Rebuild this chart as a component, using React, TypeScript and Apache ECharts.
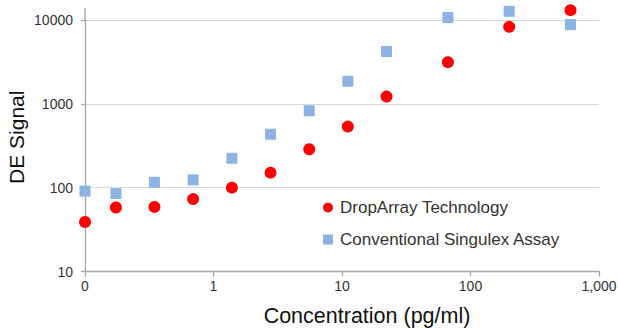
import React, { useEffect, useRef } from "react";
import * as echarts from "echarts";

const concentrations = [0.1, 0.174, 0.347, 0.694, 1.39, 2.78, 5.56, 11.1, 22.2, 66.7, 200, 600];
const dropArrayValues = [39, 58, 59, 73, 100, 151, 287, 535, 1220, 3140, 8280, 13100];
const singulexValues = [91, 85, 116, 124, 224, 434, 827, 1860, 4200, 10700, 12700, 8810];
const seriesNames = ["DropArray Technology", "Conventional Singulex Assay"];

const FONT = "'Liberation Sans', Arial, Helvetica, sans-serif";

export default function App() {
  const ref = useRef<HTMLDivElement>(null);
  useEffect(() => {
    if (!ref.current) return;
    const chart = echarts.init(ref.current, undefined, { renderer: "svg" });
    const axisLineStyle = { color: "#a6a6a6", width: 1.3 };
    chart.setOption({
      animation: false,
      textStyle: { fontFamily: FONT },
      grid: { left: 85, right: 19, top: 20, bottom: 56.5, outerBoundsMode: "none", containLabel: false },
      legend: {
        data: [
          { name: seriesNames[0], icon: "circle" },
          { name: seriesNames[1], icon: "rect" },
        ],
        orient: "vertical",
        left: 318,
        top: 194,
        padding: 5,
        itemWidth: 10,
        itemHeight: 10,
        itemGap: 15,
        textStyle: { fontSize: 17, color: "#333", fontFamily: FONT, padding: [0, 0, 0, 2] },
      },
      xAxis: {
        type: "log",
        logBase: 10,
        min: 0.1,
        max: 1000,
        name: "Concentration (pg/ml)",
        nameLocation: "middle",
        nameGap: 33.5,
        nameMoveOverlap: false,
        nameTextStyle: { fontSize: 21.5, color: "#111", fontFamily: FONT, padding: [0, 0, 0, 50] },
        axisLine: { lineStyle: axisLineStyle },
        axisTick: { show: true, length: 5, lineStyle: axisLineStyle },
        axisLabel: {
          fontSize: 14,
          color: "#333",
          margin: 7,
          fontFamily: FONT,
          formatter: (v: number) => {
            const r = Math.round(v * 1000) / 1000;
            if (r < 1) return "0";
            return Math.round(r).toLocaleString("en-US");
          },
        },
        splitLine: { show: false },
      },
      yAxis: {
        type: "log",
        logBase: 10,
        min: 10,
        max: 10000,
        name: "DE Signal",
        nameLocation: "middle",
        nameGap: 58,
        nameMoveOverlap: false,
        nameTextStyle: { fontSize: 21, color: "#111", fontFamily: FONT, padding: [0, 0, 0, 17] },
        axisLine: { show: true, lineStyle: axisLineStyle },
        axisTick: { show: true, length: 4, lineStyle: axisLineStyle },
        axisLabel: {
          fontSize: 14,
          color: "#333",
          margin: 12,
          fontFamily: FONT,
          formatter: (v: number) => String(Math.round(v)),
        },
        splitLine: { show: true, lineStyle: { color: "#d9d9d9", width: 1 } },
      },
      graphic: [
        {
          type: "line",
          shape: { x1: 85, y1: 8, x2: 85, y2: 20 },
          style: { stroke: "#a6a6a6", lineWidth: 1.3 },
        },
      ],
      series: [
        {
          name: seriesNames[1],
          type: "scatter",
          symbol: "rect",
          symbolSize: 11,
          clip: false,
          itemStyle: { color: "#8db3e2", opacity: 1 },
          data: concentrations.map((c, i) => [c, singulexValues[i]]),
        },
        {
          name: seriesNames[0],
          type: "scatter",
          symbol: "circle",
          symbolSize: 12,
          clip: false,
          itemStyle: { color: "#ff0000", opacity: 1 },
          data: concentrations.map((c, i) => [c, dropArrayValues[i]]),
        },
      ],
    });
    return () => chart.dispose();
  }, []);
  return (
    <div
      ref={ref}
      style={{ position: "fixed", left: 0, top: 0, width: 618, height: 328, background: "#fff" }}
    />
  );
}
